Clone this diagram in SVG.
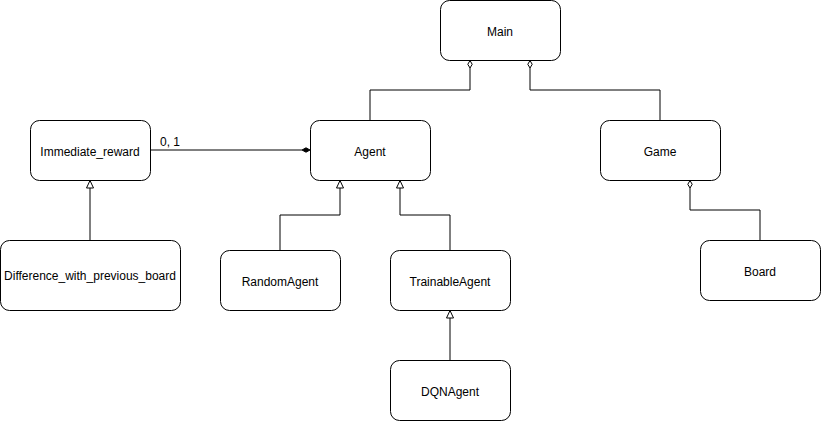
<svg xmlns="http://www.w3.org/2000/svg" width="821" height="421" viewBox="0 0 821 421">
<style>
.box{fill:#fff;stroke:#000;stroke-width:1}
.lbl{font-family:"Liberation Sans",Arial,sans-serif;font-size:12px;fill:#000;text-anchor:middle;dominant-baseline:central}
.edge{fill:none;stroke:#000;stroke-width:1}
.tri{fill:#fff;stroke:#000;stroke-width:1}
.odia{fill:#fff;stroke:#000;stroke-width:1}
.fdia{fill:#000;stroke:#000;stroke-width:1}
</style>
<rect width="821" height="421" fill="#fff"/>
<g id="connectors">
<path class="edge" d="M470 68 V90 H370 V120"/>
<path class="odia" d="M470 60.5 L472.2 64.3 L470 68 L467.8 64.3 Z"/>
<path class="edge" d="M530 68 V90 H660 V120"/>
<path class="odia" d="M530 60.5 L532.2 64.3 L530 68 L527.8 64.3 Z"/>
<path class="edge" d="M150 150 H302"/>
<path class="fdia" d="M310 150 L306 152.2 L302 150 L306 147.8 Z"/>
<text class="lbl" x="170" y="142">0, 1</text>
<path class="edge" d="M90 240 V188"/>
<path class="tri" d="M90 180.5 L93.5 188 L86.5 188 Z"/>
<path class="edge" d="M280 250 V215 H340 V188"/>
<path class="tri" d="M340 180.5 L343.5 188 L336.5 188 Z"/>
<path class="edge" d="M450 250 V215 H400 V188"/>
<path class="tri" d="M400 180.5 L403.5 188 L396.5 188 Z"/>
<path class="edge" d="M450 360 V318"/>
<path class="tri" d="M450 310.5 L453.5 318 L446.5 318 Z"/>
<path class="edge" d="M690 188 V210 H760 V240"/>
<path class="odia" d="M690 180.5 L692.2 184.3 L690 188 L687.8 184.3 Z"/>
</g>
<g id="main"><rect class="box" x="440.5" y="0.5" width="120" height="60" rx="9"/><text class="lbl" x="500" y="32">Main</text></g>
<g id="agent"><rect class="box" x="310.5" y="120.5" width="120" height="60" rx="9"/><text class="lbl" x="370" y="152">Agent</text></g>
<g id="game"><rect class="box" x="600.5" y="120.5" width="120" height="60" rx="9"/><text class="lbl" x="660" y="152">Game</text></g>
<g id="immediate_reward"><rect class="box" x="30.5" y="120.5" width="120" height="60" rx="9"/><text class="lbl" x="90" y="152">Immediate_reward</text></g>
<g id="difference"><rect class="box" x="0.5" y="240.5" width="180" height="70" rx="9"/><text class="lbl" x="90" y="276">Difference_with_previous_board</text></g>
<g id="randomagent"><rect class="box" x="220.5" y="250.5" width="120" height="60" rx="9"/><text class="lbl" x="280" y="282">RandomAgent</text></g>
<g id="trainableagent"><rect class="box" x="390.5" y="250.5" width="120" height="60" rx="9"/><text class="lbl" x="450" y="282">TrainableAgent</text></g>
<g id="dqnagent"><rect class="box" x="390.5" y="360.5" width="120" height="60" rx="9"/><text class="lbl" x="450" y="392">DQNAgent</text></g>
<g id="board"><rect class="box" x="700.5" y="240.5" width="120" height="60" rx="9"/><text class="lbl" x="760" y="272">Board</text></g>
</svg>
